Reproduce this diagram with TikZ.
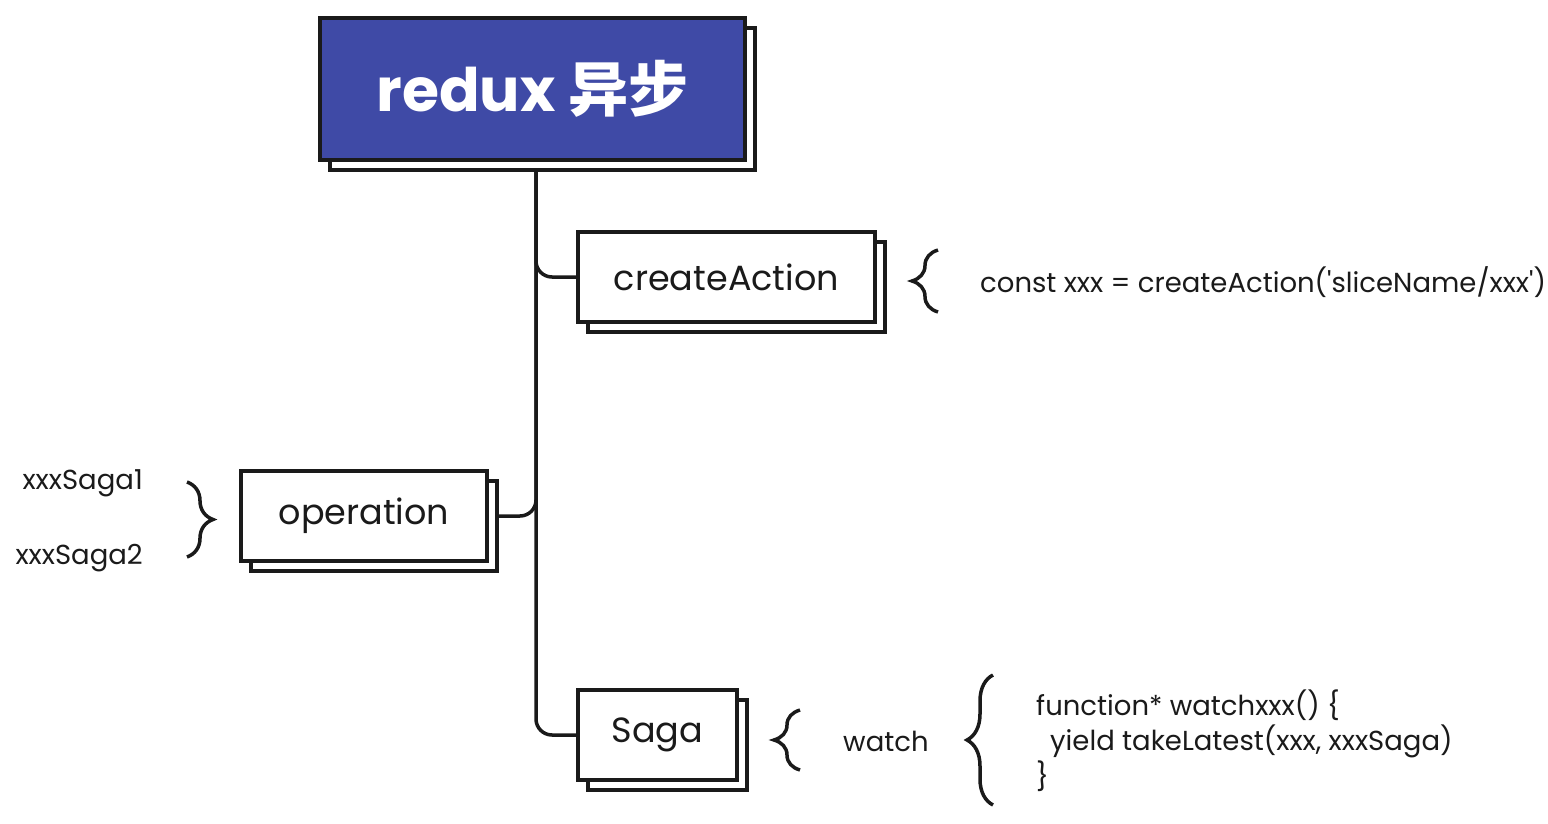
\documentclass[tikz,border=0pt]{standalone}
\usepackage{fontspec}
\setmainfont{Poppins}
\newfontfamily\cjk{Noto Sans CJK SC}
\usetikzlibrary{shadows,decorations.pathreplacing}

\definecolor{reduxblue}{RGB}{63,74,166}
\definecolor{ink}{RGB}{26,26,26}

\tikzset{
  stack/.style={draw=ink, line width=3.5pt, fill=white, inner sep=0pt,
    minimum height=90pt, font=\fontsize{35}{40}\selectfont, text=ink,
    copy shadow={shadow xshift=10pt, shadow yshift=-10pt, fill=white, draw=ink, line width=3.5pt}},
  link/.style={draw=ink, line width=3.5pt, rounded corners=16pt},
  curly/.style={draw=ink, line width=3.5pt, decorate, decoration={brace, amplitude=26pt}},
  label/.style={inner sep=0pt, font=\fontsize{27.5}{32}\selectfont, text=ink},
}

\begin{document}
\begin{tikzpicture}[x=1pt,y=1pt,yscale=-1,xscale=1]
\useasboundingbox (0,0) rectangle (1548,824);

% Text Node
\node[stack, line width=4pt, fill=reduxblue, minimum width=425pt, minimum height=142pt,
  text=white, font=\fontsize{60}{70}\selectfont\bfseries] (title) at (532.5,89) {redux {\cjk 异步}};
% Text Node
\node[stack, minimum width=297pt] (act) at (726.5,277) {createAction};
% Text Node
\node[stack, minimum width=246pt] (op) at (364,516) {operation};
% Text Node
\node[stack, minimum width=159pt] (saga) at (657.5,735) {Saga};

% Connection
\coordinate (top) at ([shift={(3.5,10)}]title.south);
\draw[link] (top) |- (act.west);
\draw[link] (top) |- ([xshift=10pt]op.east);
\draw[link] (top) |- (saga.west);

% Braces
\draw[curly] (938,312) -- (938,250);
\draw[curly] (187,482) -- (187,557);
\draw[curly] (800,770) -- (800,710);
\draw[curly] (993,805) -- (993,675);

% Text Node
\node[label, anchor=west] (actcode) at (980,282) {const xxx = createAction(\textquotesingle sliceName/xxx\textquotesingle)};
\node[label, anchor=east] (saga1) at (143,483) {xxxSaga1};
\node[label, anchor=east] (saga2) at (143,558) {xxxSaga2};
\node[label, anchor=west] (watch) at (843,741) {watch};
\node[label, anchor=west] (line1) at (1036,705) {function* watchxxx() \{};
\node[label, anchor=west] (line2) at (1050,741) {yield takeLatest(xxx, xxxSaga)};
\node[label, anchor=west] (line3) at (1036,776) {\}};

\end{tikzpicture}
\end{document}
